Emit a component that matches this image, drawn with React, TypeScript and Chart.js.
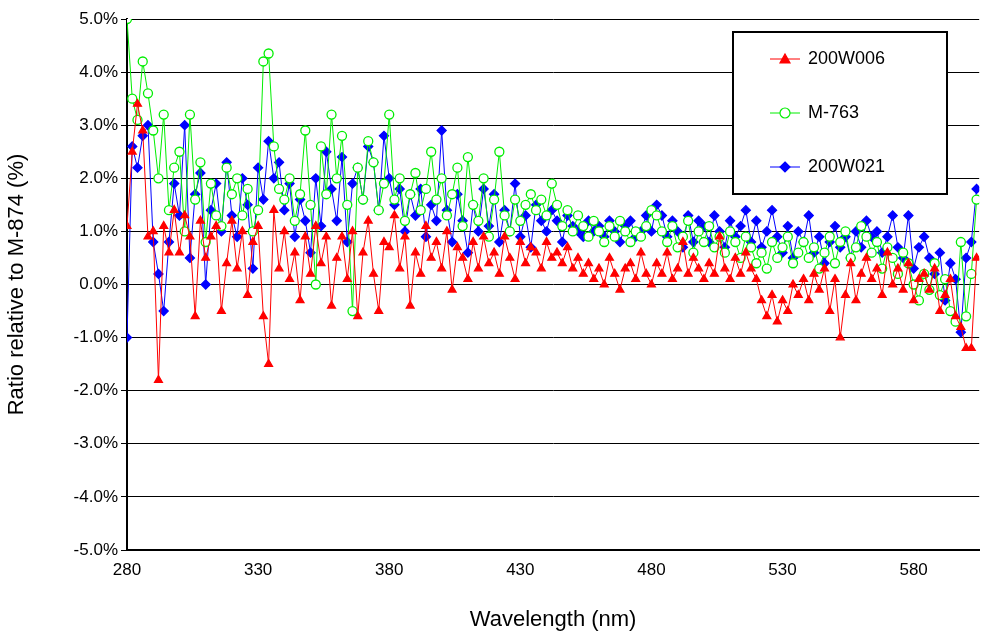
import React, { useEffect, useRef } from 'react';
import { Chart, registerables } from 'chart.js';

Chart.register(...registerables);

const wavelengths: number[] = [];
for (let w = 280; w <= 604; w += 2) wavelengths.push(w);

const xTicks = [280, 330, 380, 430, 480, 530, 580];

const w006 = [
  1.1, 2.5, 3.4, 2.9, 0.9, 1.0, -1.8, 1.1, 0.6, 1.4,
  0.6, 1.3, 0.9, -0.6, 1.2, 0.5, 0.9, 1.1, -0.5, 0.4,
  1.2, 0.3, 1.0, -0.2, 0.8, 1.1, -0.6, -1.5, 1.4, 0.3,
  1.0, 0.1, 0.6, -0.3, 0.9, 0.2, 1.1, 0.4, 0.9, -0.4,
  0.5, 0.9, 0.1, 1.0, -0.6, 0.6, 1.2, 0.2, -0.5, 0.8,
  0.7, 1.3, 0.3, 0.9, -0.4, 0.6, 0.2, 1.1, 0.5, 0.8,
  0.3, 1.0, -0.1, 0.7, 0.5, 0.1, 0.8, 0.3, 0.9, 0.4,
  0.6, 0.2, 0.9, 0.5, 0.1, 0.8, 0.4, 0.7, 0.6, 0.3,
  0.8, 0.5, 0.6, 0.4, 0.7, 0.3, 0.5, 0.2, 0.4, 0.1,
  0.3, 0.0, 0.5, 0.2, -0.1, 0.3, 0.4, 0.1, 0.6, 0.2,
  0.0, 0.4, 0.2, 0.6, 0.1, 0.3, 0.8, 0.2, 0.5, 0.3,
  0.1, 0.4, 0.2, 0.9, 0.3, 0.1, 0.5, 0.2, 0.6, 0.3,
  0.1, -0.3, -0.6, -0.2, -0.7, -0.3, -0.5, 0.0, -0.2, 0.1,
  -0.3, 0.2, -0.1, 0.3, -0.5, 0.1, -1.0, -0.2, 0.4, -0.3,
  0.2, 0.5, 0.1, 0.3, -0.2, 0.6, 0.0, 0.3, -0.1, 0.4,
  -0.3, 0.1, 0.2, -0.1, 0.3, -0.5, -0.2, 0.1, -0.6, -0.8,
  -1.2, -1.2, 0.5,
];

const m763 = [
  5.0, 3.5, 3.1, 4.2, 3.6, 2.9, 2.0, 3.2, 1.4, 2.2,
  2.5, 1.0, 3.2, 1.6, 2.3, 0.8, 1.9, 1.3, 1.1, 2.2,
  1.7, 2.0, 1.3, 1.8, 1.0, 1.4, 4.2, 4.35, 2.6, 1.8,
  1.6, 2.0, 1.2, 1.7, 2.9, 1.5, 0.0, 2.6, 1.7, 3.2,
  2.0, 2.8, 1.5, -0.5, 2.2, 1.6, 2.7, 2.3, 1.4, 1.9,
  3.2, 1.6, 2.0, 1.2, 1.7, 2.1, 1.4, 1.8, 2.5, 1.6,
  2.0, 1.3, 1.7, 2.2, 1.1, 2.4, 1.5, 1.2, 2.0, 0.9,
  1.6, 2.5, 1.3, 1.0, 1.6, 1.2, 1.5, 1.7, 1.4, 1.6,
  1.3, 1.9, 1.5, 1.1, 1.4, 1.0, 1.3, 1.1, 0.9, 1.2,
  1.0, 0.8, 1.1, 0.9, 1.2, 1.0, 0.8, 1.0, 0.9, 1.1,
  1.4, 1.3, 1.0, 0.8, 1.1, 0.7, 0.9, 1.2, 0.6, 1.0,
  0.8, 1.1, 0.7, 0.9, 0.6, 1.0, 0.8, 0.5, 0.9, 0.7,
  0.4, 0.6, 0.3, 0.8, 0.5, 0.7, 0.9, 0.4, 0.6, 0.8,
  0.5, 0.7, 0.3, 0.6, 0.9, 0.4, 0.8, 1.0, 0.5, 0.7,
  1.1, 0.9, 0.6, 0.8, 0.3, 0.7, 0.5, 0.2, 0.6, 0.4,
  0.0, -0.3, 0.2, -0.1, 0.4, -0.2, 0.1, -0.5, -0.7, 0.8,
  -0.6, 0.2, 1.6,
];

const w021 = [
  -1.0, 2.6, 2.2, 2.8, 3.0, 0.8, 0.2, -0.5, 0.8, 1.9,
  1.3, 3.0, 0.5, 1.7, 2.1, 0.0, 1.4, 1.9, 1.0, 2.3,
  1.3, 0.9, 2.0, 1.5, 0.3, 2.2, 1.6, 2.7, 2.0, 2.3,
  1.4, 1.9, 0.9, 1.6, 1.2, 0.6, 2.0, 1.1, 2.5, 1.8,
  1.2, 2.4, 0.8, 1.9, 2.2, 1.6, 2.6, 2.3, 1.4, 2.8,
  2.0, 1.5, 1.8, 1.0, 1.7, 1.3, 1.8, 0.9, 1.5, 1.2,
  2.9, 1.4, 0.8, 1.7, 1.2, 0.6, 1.5, 1.0, 1.8, 1.1,
  1.7, 0.8, 1.4, 1.0, 1.9, 0.9, 1.3, 0.7, 1.5, 1.2,
  1.0, 1.4, 1.2, 0.8, 1.3, 1.1, 1.0, 0.9, 1.2, 1.0,
  1.1, 0.9, 1.2, 1.0, 0.8, 1.1, 1.2, 0.9, 1.0, 1.3,
  1.0, 1.5, 1.3, 0.9, 1.2, 1.0, 0.7, 1.3, 0.8, 1.2,
  1.1, 0.8, 1.3, 1.0, 0.7, 1.2, 0.9, 1.1, 1.4, 0.8,
  1.2, 0.7, 1.0, 1.4, 0.9, 0.6, 1.1, 0.5, 1.0, 0.8,
  1.3, 0.6, 0.9, 0.4, 0.8, 1.1, 0.7, 0.9, 0.5, 1.0,
  0.7, 1.2, 0.9, 1.0, 0.6, 0.9, 1.3, 0.7, 0.5, 1.3,
  0.3, 0.7, 0.9, 0.5, 0.2, 0.6, -0.3, 0.4, 0.1, -0.9,
  0.5, 0.8, 1.8,
];

const FONT = '"Liberation Sans", Arial, sans-serif';

const series = [
  { label: '200W006', data: w006, color: '#ff0000', style: 'triangle', fill: '#ff0000' },
  { label: 'M-763', data: m763, color: '#00ee00', style: 'circle', fill: '#ffffff' },
  { label: '200W021', data: w021, color: '#0000ff', style: 'rectRot', fill: '#0000ff' },
];

const legendBox = {
  id: 'legendBox',
  afterDraw(chart: any) {
    const ctx = chart.ctx;
    ctx.save();
    ctx.fillStyle = '#fff';
    ctx.fillRect(733, 32, 214, 162);
    ctx.strokeStyle = '#000';
    ctx.lineWidth = 2;
    ctx.strokeRect(733, 32, 214, 162);
    ctx.font = `18px ${FONT}`;
    ctx.textBaseline = 'middle';
    series.forEach((s, i) => {
      const y = 59 + i * 54;
      ctx.strokeStyle = s.color;
      ctx.lineWidth = 1;
      ctx.beginPath();
      ctx.moveTo(770, y);
      ctx.lineTo(800, y);
      ctx.stroke();
      ctx.fillStyle = s.fill;
      ctx.strokeStyle = s.color;
      ctx.lineWidth = 1.2;
      const r = 5;
      ctx.beginPath();
      if (s.style === 'triangle') {
        ctx.moveTo(785, y - r);
        ctx.lineTo(785 + r, y + r * 0.8);
        ctx.lineTo(785 - r, y + r * 0.8);
        ctx.closePath();
      } else if (s.style === 'circle') {
        ctx.arc(785, y, r, 0, Math.PI * 2);
      } else {
        ctx.moveTo(785, y - r);
        ctx.lineTo(785 + r, y);
        ctx.lineTo(785, y + r);
        ctx.lineTo(785 - r, y);
        ctx.closePath();
      }
      ctx.fill();
      ctx.stroke();
      ctx.fillStyle = '#000';
      ctx.fillText(s.label, 808, y);
    });
    ctx.restore();
  },
};

export default function App() {
  const canvasRef = useRef<HTMLCanvasElement>(null);

  useEffect(() => {
    document.body.style.margin = '0';
    if (!canvasRef.current) return;
    const chart = new Chart(canvasRef.current, {
      type: 'line',
      data: {
        datasets: series.map((s) => ({
          label: s.label,
          data: s.data.map((v, i) => ({ x: wavelengths[i], y: v })),
          borderColor: s.color,
          backgroundColor: s.fill,
          pointBackgroundColor: s.fill,
          pointBorderColor: s.color,
          pointStyle: s.style as any,
          pointRadius: 4.5,
          pointBorderWidth: 1.3,
          borderWidth: 1,
          tension: 0,
        })),
      },
      options: {
        animation: false,
        responsive: false,
        layout: { padding: { top: 19, right: 0, left: 0, bottom: 0 } },
        plugins: { legend: { display: false }, tooltip: { enabled: false } },
        scales: {
          x: {
            type: 'linear',
            min: 280,
            max: 605,
            afterBuildTicks: (axis: any) => {
              axis.ticks = xTicks.map((v) => ({ value: v }));
            },
            afterFit: (axis: any) => {
              axis.height = 87;
            },
            grid: { display: false, drawTicks: true, tickLength: 6, color: '#000' },
            border: { color: '#000', width: 2 },
            ticks: { color: '#000', font: { family: FONT, size: 17 }, padding: 4 },
            title: {
              display: true,
              text: 'Wavelength (nm)',
              color: '#000',
              font: { family: FONT, size: 22 },
              padding: { top: 0 },
            },
          },
          y: {
            min: -5,
            max: 5,
            afterFit: (axis: any) => {
              axis.width = 127;
            },
            grid: { color: '#000', lineWidth: 1, tickLength: 6 },
            border: { color: '#000', width: 2 },
            ticks: {
              stepSize: 1,
              color: '#000',
              font: { family: FONT, size: 17 },
              callback: (v: any) => Number(v).toFixed(1) + '%',
            },
            title: {
              display: true,
              text: 'Ratio relative to M-874 (%)',
              color: '#000',
              font: { family: FONT, size: 22 },
            },
          },
        },
      },
      plugins: [legendBox],
    });
    return () => chart.destroy();
  }, []);

  return <canvas ref={canvasRef} width={985} height={637} style={{ display: 'block' }} />;
}
